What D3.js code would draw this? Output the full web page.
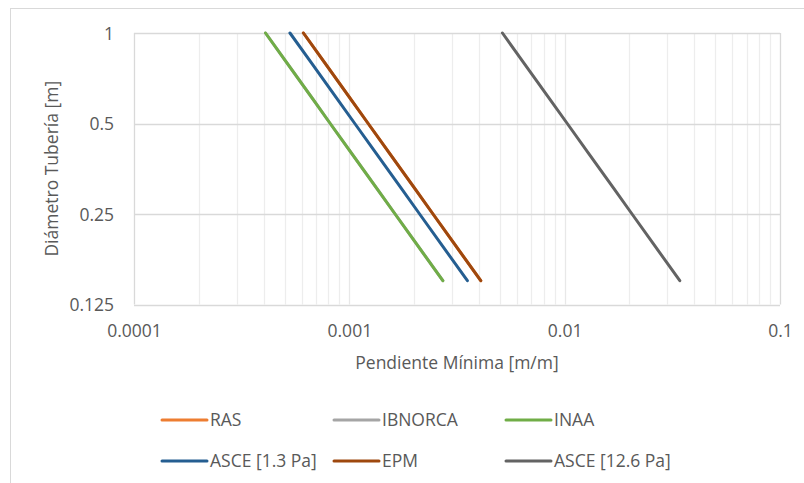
<!DOCTYPE html>
<html>
<head>
<meta charset="utf-8">
<script src="https://cdn.jsdelivr.net/npm/d3@7"></script>
<style>
  html, body { margin: 0; padding: 0; background: #fff; }
  svg text { font-family: "Open Sans", "Noto Sans", sans-serif; fill: #595959; }
</style>
</head>
<body>
<svg id="chart" width="804" height="483"></svg>
<script>
// Pipe diameter [m] for each computed point
const diameters = [0.15, 0.2, 0.25, 0.3, 0.4, 0.5, 0.6, 0.8, 1.0];

// Minimum slope [m/m] per standard, same order as diameters
const slopeRAS      = [0.004077, 0.003058, 0.002446, 0.002039, 0.001529, 0.001223, 0.001019, 0.000765, 0.000612];
const slopeIBNORCA  = [0.002718, 0.002039, 0.001631, 0.001359, 0.001019, 0.000815, 0.000680, 0.000510, 0.000408];
const slopeINAA     = [0.002718, 0.002039, 0.001631, 0.001359, 0.001019, 0.000815, 0.000680, 0.000510, 0.000408];
const slopeASCE13   = [0.003534, 0.002650, 0.002120, 0.001767, 0.001325, 0.001060, 0.000883, 0.000663, 0.000530];
const slopeEPM      = [0.004077, 0.003058, 0.002446, 0.002039, 0.001529, 0.001223, 0.001019, 0.000765, 0.000612];
const slopeASCE126  = [0.03425, 0.02569, 0.02055, 0.01713, 0.01284, 0.01028, 0.00856, 0.00642, 0.00514];

const seriesNames  = ["RAS", "IBNORCA", "INAA", "ASCE [1.3 Pa]", "EPM", "ASCE [12.6 Pa]"];
const seriesValues = [slopeRAS, slopeIBNORCA, slopeINAA, slopeASCE13, slopeEPM, slopeASCE126];
const seriesColors = ["#ED7D31", "#A5A5A5", "#70AD47", "#255E91", "#9E480E", "#636363"];

// Axis ticks
const xTickValues = [0.0001, 0.001, 0.01, 0.1];
const xTickLabels = ["0.0001", "0.001", "0.01", "0.1"];
const yTickValues = [0.125, 0.25, 0.5, 1];
const yTickLabels = ["0.125", "0.25", "0.5", "1"];

const svg = d3.select("#chart");
const W = 804, H = 483;
const plot = { left: 134, top: 33, right: 780, bottom: 304.5 };

// Chart area frame
svg.append("rect")
  .attr("x", 10.5).attr("y", 8.5)
  .attr("width", W).attr("height", H)
  .attr("fill", "#fff").attr("stroke", "#D9D9D9").attr("stroke-width", 1);

const x = d3.scaleLog().domain([0.0001, 0.1]).range([plot.left, plot.right]);
const y = d3.scaleLog().base(2).domain([0.125, 1]).range([plot.bottom, plot.top]);

// Minor vertical gridlines (2..9 of each decade)
const grid = svg.append("g");
grid.selectAll("line.vminor")
  .data(x.ticks().filter(v => !xTickValues.some(t => Math.abs(t - v) / t < 1e-6)))
  .join("line")
  .attr("class", "vminor")
  .attr("x1", d => Math.round(x(d)) + 0.5).attr("x2", d => Math.round(x(d)) + 0.5)
  .attr("y1", plot.top).attr("y2", plot.bottom)
  .attr("stroke", "#EDEDED").attr("stroke-width", 1.3);

// Major vertical gridlines
grid.selectAll("line.vmajor")
  .data(xTickValues)
  .join("line")
  .attr("class", "vmajor")
  .attr("x1", d => Math.round(x(d)) + 0.5).attr("x2", d => Math.round(x(d)) + 0.5)
  .attr("y1", plot.top).attr("y2", plot.bottom)
  .attr("stroke", (d, i) => (i === 0 || i === xTickValues.length - 1) ? "#D9D9D9" : "#E8E8E8")
  .attr("stroke-width", 1.3);

// Major horizontal gridlines
grid.selectAll("line.hmajor")
  .data(yTickValues)
  .join("line")
  .attr("class", "hmajor")
  .attr("x1", plot.left).attr("x2", plot.right)
  .attr("y1", d => Math.round(y(d)) + 0.5).attr("y2", d => Math.round(y(d)) + 0.5)
  .attr("stroke", "#D9D9D9").attr("stroke-width", 1.5);

// Axes (labels only)
const fs = 17.5;
const xAxis = d3.axisBottom(x)
  .tickValues(xTickValues)
  .tickFormat((d, i) => xTickLabels[i])
  .tickSize(0).tickPadding(0);
const gx = svg.append("g").attr("transform", `translate(0, ${plot.bottom})`).call(xAxis);
gx.select(".domain").remove();
gx.selectAll("text")
  .attr("dy", null).attr("y", 32)
  .style("font-size", fs + "px").style("font-family", null).attr("fill", null);

const yAxis = d3.axisLeft(y)
  .tickValues(yTickValues)
  .tickFormat((d, i) => yTickLabels[i])
  .tickSize(0).tickPadding(0);
const gy = svg.append("g").attr("transform", `translate(${plot.left - 20}, 0)`).call(yAxis);
gy.select(".domain").remove();
gy.selectAll("text")
  .attr("dy", "0.35em")
  .style("font-size", fs + "px").style("font-family", null).attr("fill", null);

// Axis titles
svg.append("text")
  .attr("x", (plot.left + plot.right) / 2).attr("y", 369)
  .attr("text-anchor", "middle")
  .style("font-size", fs + "px")
  .text("Pendiente Mínima [m/m]");

svg.append("text")
  .attr("transform", `translate(58, ${(plot.top + plot.bottom) / 2}) rotate(-90)`)
  .attr("text-anchor", "middle")
  .style("font-size", fs + "px")
  .text("Diámetro Tubería [m]");

// Series lines
const line = d3.line()
  .x(d => x(d[1]))
  .y(d => y(d[0]));

svg.append("g").selectAll("path")
  .data(seriesValues.map((vals, i) => ({ name: seriesNames[i], color: seriesColors[i], pts: diameters.map((dm, j) => [dm, vals[j]]) })))
  .join("path")
  .attr("d", d => line(d.pts))
  .attr("fill", "none")
  .attr("stroke", d => d.color)
  .attr("stroke-width", 3)
  .attr("stroke-linecap", "round");

// Legend: 3 columns x 2 rows
const legendCols = [162, 334, 506];
const legendRows = [420, 461];
const legend = svg.append("g");
seriesNames.forEach((name, i) => {
  const lx = legendCols[i % 3], ly = legendRows[Math.floor(i / 3)];
  legend.append("line")
    .attr("x1", lx).attr("x2", lx + 45)
    .attr("y1", ly).attr("y2", ly)
    .attr("stroke", seriesColors[i]).attr("stroke-width", 3)
    .attr("stroke-linecap", "round");
  legend.append("text")
    .attr("x", lx + 48).attr("y", ly)
    .attr("dy", "0.35em")
    .style("font-size", fs + "px")
    .text(name);
});
</script>
</body>
</html>
